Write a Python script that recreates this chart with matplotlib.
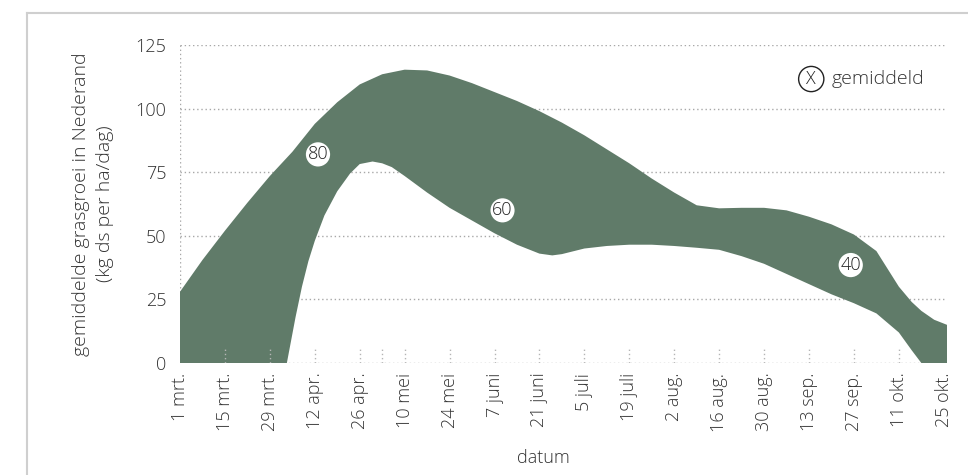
import matplotlib
matplotlib.use("Agg")
import matplotlib.pyplot as plt
from matplotlib.lines import Line2D
import numpy as np

# x = days after 1 March
tick_days = [0, 14, 28, 42, 56, 70, 84, 98, 112, 126, 140, 154, 168, 182, 196, 210, 224, 238]
tick_labels = ["1 mrt.", "15 mrt.", "29 mrt.", "12 apr.", "26 apr.", "10 mei", "24 mei",
               "7 juni", "21 juni", "5 juli", "19 juli", "2 aug.", "16 aug.", "30 aug.",
               "13 sep.", "27 sep.", "11 okt.", "25 okt."]
extra_tick = [63]

upper_x = [0, 7, 14, 21, 28, 35, 42, 49, 56, 63, 70, 77, 84, 91, 98, 105, 112, 119, 126,
           133, 140, 147, 154, 161, 168, 175, 182, 189, 196, 203, 210, 217, 224, 228, 231, 235, 239]
upper_y = [28, 40.5, 52, 63, 73.5, 83, 94, 102.5, 109.5, 113.5, 115.3, 115, 113, 110, 106.5,
           103, 99, 94.5, 89.5, 84, 78.5, 72.5, 67, 62, 60.8, 61, 61, 60, 57.5, 54.5, 50.5,
           44, 30, 24, 20.5, 17, 15]

lower_x = [0, 33.3, 34.5, 36, 38, 40, 42, 45, 49, 53, 56, 60, 63, 66, 70, 77, 84, 91, 98, 105,
           112, 116, 119, 126, 133, 140, 147, 154, 161, 168, 175, 182, 189, 196, 203, 210, 217,
           224, 228, 231, 239]
lower_y = [0, 0, 8, 18, 30, 40, 48, 58, 67.5, 74.5, 78.2, 79.2, 78.5, 77, 73.5, 67, 61, 56, 51,
           46.5, 43, 42.3, 42.8, 45, 46, 46.5, 46.5, 46, 45.3, 44.5, 42, 39, 35, 31, 27, 23.5,
           19.5, 12, 5, 0, 0]

# average growth labels (x day, y value, text)
avg_x = [43, 100.5, 209]
avg_y = [82, 60, 38.5]
avg_txt = ["80", "60", "40"]

GREEN = "#607b69"
TXT = "#333333"
GRID = "#a8a8a8"

plt.rcParams["font.family"] = ["Open Sans", "DejaVu Sans"]
plt.rcParams["font.weight"] = "light"
plt.rcParams["axes.labelweight"] = "light"

fig = plt.figure(figsize=(9.68, 4.75), dpi=100)
ax = fig.add_axes([180 / 968, 1 - 363 / 475, (947 - 180) / 968, (363 - 45) / 475])

# frame lines of the card
fig.add_artist(Line2D([27 / 968, 27 / 968], [0, 1 - 13 / 475], transform=fig.transFigure,
                      color="#cfcfcf", lw=1.5))
fig.add_artist(Line2D([27 / 968, 1], [1 - 13 / 475, 1 - 13 / 475], transform=fig.transFigure,
                      color="#cfcfcf", lw=1.5))

xmax = 239
ax.set_xlim(0, xmax)
ax.set_ylim(0, 125)
for s in ax.spines.values():
    s.set_visible(False)

dots = (0, (1, 2))
ax.hlines([0, 25, 50, 75, 100, 125], 0, xmax, colors=GRID, linestyles=[dots], lw=1, zorder=1)
ax.vlines(0, 0, 125, colors=GRID, linestyles=[dots], lw=1, zorder=1)

poly_x = np.concatenate([upper_x, lower_x[::-1]])
poly_y = np.concatenate([upper_y, lower_y[::-1]])
ax.fill(poly_x, poly_y, color=GREEN, lw=0, zorder=2)

ax.vlines(tick_days[1:-1] + extra_tick, 0, 6.3, colors="#b5b5b5", linestyles=[dots], lw=1, zorder=3)

for x, y, t in zip(avg_x, avg_y, avg_txt):
    ax.text(x, y, t, ha="center", va="center", fontsize=13, color="#222222", zorder=4,
            bbox=dict(boxstyle="circle,pad=0.1", fc="white", ec="none"))

# legend
ax.text(0.823, 0.893, "X", transform=ax.transAxes, ha="center", va="center", fontsize=13,
        color="#222222", bbox=dict(boxstyle="circle,pad=0.2", fc="white", ec="#222222", lw=1))
ax.text(0.849, 0.893, "gemiddeld", transform=ax.transAxes, ha="left", va="center",
        fontsize=14, color=TXT)

ax.set_xticks(tick_days)
ax.set_xticklabels(tick_labels, rotation=90, fontsize=13, color=TXT)
ax.set_yticks([0, 25, 50, 75, 100, 125])
ax.set_yticklabels(["0", "25", "50", "75", "100", "125"], fontsize=13, color=TXT)
ax.tick_params(length=0, pad=7)
ax.tick_params(axis="y", pad=10)

ax.set_ylabel("gemiddelde grasgroei in Nederand\n(kg ds per ha/dag)", fontsize=14,
              fontweight="light", color=TXT, labelpad=15, linespacing=1.45)
fig.text(543 / 968, 1 - 458 / 475, "datum", ha="center", va="center", fontsize=13, color=TXT)

fig.savefig("out.png", dpi=100)
